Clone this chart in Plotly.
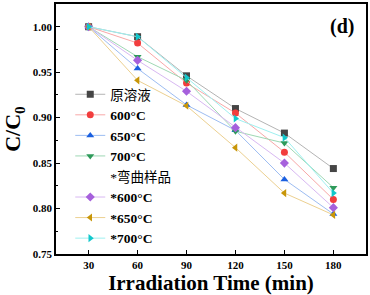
import plotly.graph_objects as go

time_min = [30, 60, 90, 120, 150, 180]
series_names = ["原溶液", "600°C", "650°C", "700°C", "*600°C", "*650°C", "*700°C"]
raw_solution = [1.000, 0.989, 0.946, 0.910, 0.883, 0.844]
t600 = [1.000, 0.982, 0.938, 0.905, 0.862, 0.810]
t650 = [1.000, 0.954, 0.914, 0.886, 0.832, 0.794]
t700 = [1.000, 0.967, 0.941, 0.885, 0.872, 0.823]
b600 = [1.000, 0.963, 0.929, 0.889, 0.850, 0.801]
b650 = [1.000, 0.941, 0.913, 0.867, 0.817, 0.793]
b700 = [1.000, 0.989, 0.944, 0.899, 0.878, 0.817]
x_ticks = [30, 60, 90, 120, 150, 180]
y_ticks = [0.75, 0.80, 0.85, 0.90, 0.95, 1.00]

values = [raw_solution, t600, t650, t700, b600, b650, b700]
marker_colors = ["#454545", "#f23d3d", "#1a5fe0", "#2e9a5a", "#a660dc", "#c89608", "#12c8cc"]
line_colors = ["#b4b4b4", "#f8a8a8", "#9dbdf2", "#9fd8b4", "#d8b8f2", "#ecd090", "#9ef0f0"]
symbols = ["square", "circle", "triangle-up", "triangle-down", "diamond", "triangle-left", "triangle-right"]

SERIF = "Liberation Serif, Times New Roman, Noto Sans CJK SC, serif"

fig = go.Figure()
for i, (name, vals) in enumerate(zip(series_names, values)):
    if i == 4:
        fig.add_trace(go.Scatter(x=[None], y=[None], mode="lines",
                                 line=dict(color="rgba(0,0,0,0)"),
                                 name="*弯曲样品", hoverinfo="skip"))
    label = name if i == 0 else "<b>" + name + "</b>"
    fig.add_trace(go.Scatter(
        x=time_min, y=vals, mode="lines+markers", name=label,
        line=dict(color=line_colors[i], width=1),
        marker=dict(symbol=symbols[i], color=marker_colors[i], size=7),
    ))

fig.add_annotation(x=0.923, y=0.91, xref="paper", yref="paper", text="<b>(d)</b>",
                   showarrow=False, font=dict(family=SERIF, size=20, color="black"),
                   xanchor="center", yanchor="middle")

fig.update_layout(
    width=370, height=295,
    margin=dict(l=56, r=3, t=2, b=41),
    plot_bgcolor="white", paper_bgcolor="white",
    showlegend=True,
    legend=dict(x=0.046, y=0.70, xanchor="left", yanchor="top",
                bgcolor="rgba(0,0,0,0)", tracegroupgap=0,
                font=dict(family=SERIF, size=13.5, color="black"),
                itemwidth=30),
    xaxis=dict(range=[10, 200], tickmode="array", tickvals=x_ticks,
               ticktext=["<b>%d</b>" % v for v in x_ticks],
               ticks="inside", ticklen=4, tickwidth=1.2, tickcolor="black",
               showline=True, linecolor="black", linewidth=1.6, mirror=True,
               showgrid=False, zeroline=False,
               tickfont=dict(family=SERIF, size=11, color="black"),
               title=dict(text="<b>Irradiation Time (min)</b>", standoff=3,
                          font=dict(family=SERIF, size=21, color="black"))),
    yaxis=dict(range=[0.75, 1.025], tickmode="array", tickvals=y_ticks,
               ticktext=["<b>%.2f</b>" % v for v in y_ticks],
               ticks="inside", ticklen=4, tickwidth=1.2, tickcolor="black",
               minor=dict(dtick=0.025, tick0=0.75, ticks="inside", ticklen=2, tickcolor="black"),
               showline=True, linecolor="black", linewidth=1.6, mirror=True,
               showgrid=False, zeroline=False,
               tickfont=dict(family=SERIF, size=11, color="black"),
               title=dict(text="<b>C/C<sub>0</sub></b>", standoff=6,
                          font=dict(family=SERIF, size=22, color="black"))),
)

fig.write_html("out.html", config={"displayModeBar": False},
               post_script="document.body.style.margin='0';document.body.style.padding='0';")
